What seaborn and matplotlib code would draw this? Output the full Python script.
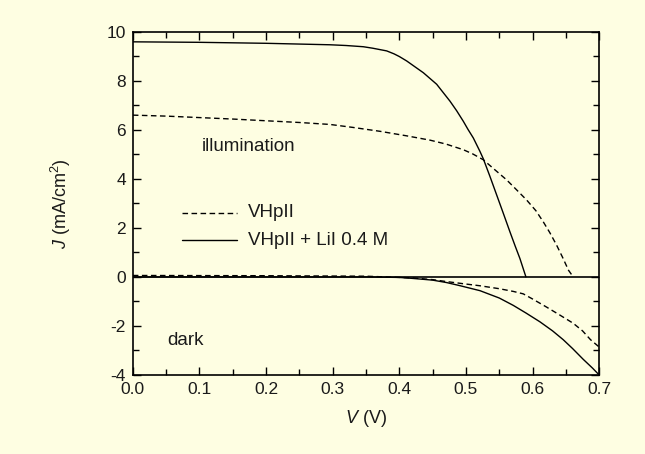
import pandas as pd
import matplotlib
matplotlib.use('Agg')
import matplotlib.pyplot as plt
from matplotlib.ticker import MultipleLocator, FormatStrFormatter
import seaborn as sns

# illuminated curves
v_light_li = [0.0, 0.1, 0.2, 0.296, 0.32, 0.346, 0.36, 0.381, 0.392, 0.40, 0.411, 0.436,
              0.456, 0.476, 0.486, 0.496, 0.503, 0.511, 0.521, 0.526, 0.536, 0.546,
              0.556, 0.566, 0.574, 0.581, 0.590]
j_light_li = [9.59, 9.57, 9.53, 9.47, 9.44, 9.39, 9.33, 9.22, 9.10, 8.99, 8.81, 8.33,
              7.86, 7.17, 6.78, 6.35, 6.02, 5.67, 5.12, 4.82, 4.10, 3.35,
              2.60, 1.84, 1.25, 0.75, 0.0]
v_light = [0.0, 0.05, 0.1, 0.15, 0.2, 0.25, 0.296, 0.33, 0.371, 0.41, 0.446, 0.47,
           0.496, 0.51, 0.526, 0.54, 0.561, 0.575, 0.591, 0.605, 0.616, 0.626,
           0.636, 0.645, 0.654, 0.661]
j_light = [6.60, 6.56, 6.50, 6.44, 6.37, 6.30, 6.22, 6.10, 5.94, 5.76, 5.58, 5.42,
           5.19, 5.02, 4.78, 4.45, 3.96, 3.58, 3.14, 2.70, 2.25, 1.80,
           1.30, 0.80, 0.27, 0.0]

# dark curves
v_dark_li = [0.0, 0.2, 0.35, 0.40, 0.42, 0.45, 0.471, 0.49, 0.521, 0.55, 0.571, 0.59,
             0.611, 0.63, 0.646, 0.66, 0.676, 0.69, 0.7]
j_dark_li = [0.0, 0.0, 0.0, -0.02, -0.06, -0.13, -0.23, -0.35, -0.56, -0.86, -1.16, -1.47,
             -1.83, -2.20, -2.56, -2.92, -3.36, -3.72, -4.0]
v_dark = [0.0, 0.2, 0.35, 0.42, 0.45, 0.471, 0.50, 0.521, 0.55, 0.571, 0.586, 0.60,
          0.621, 0.64, 0.661, 0.675, 0.687, 0.7]
j_dark = [0.06, 0.05, 0.03, -0.04, -0.11, -0.19, -0.29, -0.36, -0.48, -0.59, -0.69, -0.90,
          -1.23, -1.54, -1.89, -2.20, -2.56, -2.86]

bg = '#fefee2'
sns.set_style('ticks')
plt.rcParams['font.family'] = ['Liberation Sans', 'DejaVu Sans']
plt.rcParams['mathtext.fontset'] = 'custom'
plt.rcParams['mathtext.rm'] = 'Liberation Sans'
plt.rcParams['mathtext.it'] = 'Liberation Sans:italic'
plt.rcParams['axes.unicode_minus'] = False

fig = plt.figure(figsize=(6.45, 4.54), dpi=100, facecolor=bg)
ax = fig.add_axes([0.206, 0.174, 0.723, 0.756])
ax.set_facecolor(bg)

dash = (4, 2.5)
kw = dict(ax=ax, color='black', lw=1.0, legend=False)
sns.lineplot(x=v_light, y=j_light, **kw).lines[-1].set_dashes(dash)
sns.lineplot(x=v_light_li, y=j_light_li, **kw)
sns.lineplot(x=v_dark, y=j_dark, **kw).lines[-1].set_dashes(dash)
sns.lineplot(x=v_dark_li, y=j_dark_li, **kw)
ax.axhline(0, color='black', lw=1.2)

# legend drawn by hand like the original
ax.plot([0.073, 0.156], [2.62, 2.62], color='black', lw=1.0, dashes=dash)
ax.plot([0.073, 0.156], [1.5, 1.5], color='black', lw=1.0)
txt = dict(va='center', fontsize=13.5, color='#1a1a1a')
ax.text(0.173, 2.62, 'VHpII', **txt)
ax.text(0.173, 1.5, 'VHpII + LiI 0.4 M', **txt)
ax.text(0.104, 5.33, 'illumination', **txt)
ax.text(0.051, -2.6, 'dark', **txt)

ax.set_xlim(0, 0.7)
ax.set_ylim(-4, 10)
ax.xaxis.set_major_locator(MultipleLocator(0.1))
ax.xaxis.set_minor_locator(MultipleLocator(0.05))
ax.yaxis.set_major_locator(MultipleLocator(2))
ax.yaxis.set_minor_locator(MultipleLocator(1))
ax.xaxis.set_major_formatter(FormatStrFormatter('%.1f'))
ax.tick_params(which='both', direction='in', top=True, right=True, labelsize=12.5,
               width=1, pad=5, colors='black', labelcolor='#1a1a1a')
ax.tick_params(which='major', length=6)
ax.tick_params(which='minor', length=4)
for s in ax.spines.values():
    s.set_linewidth(1.2)
    s.set_color('black')

ax.set_xlabel(r'$\mathit{V}$ (V)', fontsize=13, labelpad=8, color='#1a1a1a')
ax.set_ylabel(r'$\mathit{J}$ (mA/cm$^2$)', fontsize=13, labelpad=24, color='#1a1a1a')

fig.savefig('out.png', dpi=100, facecolor=bg)
